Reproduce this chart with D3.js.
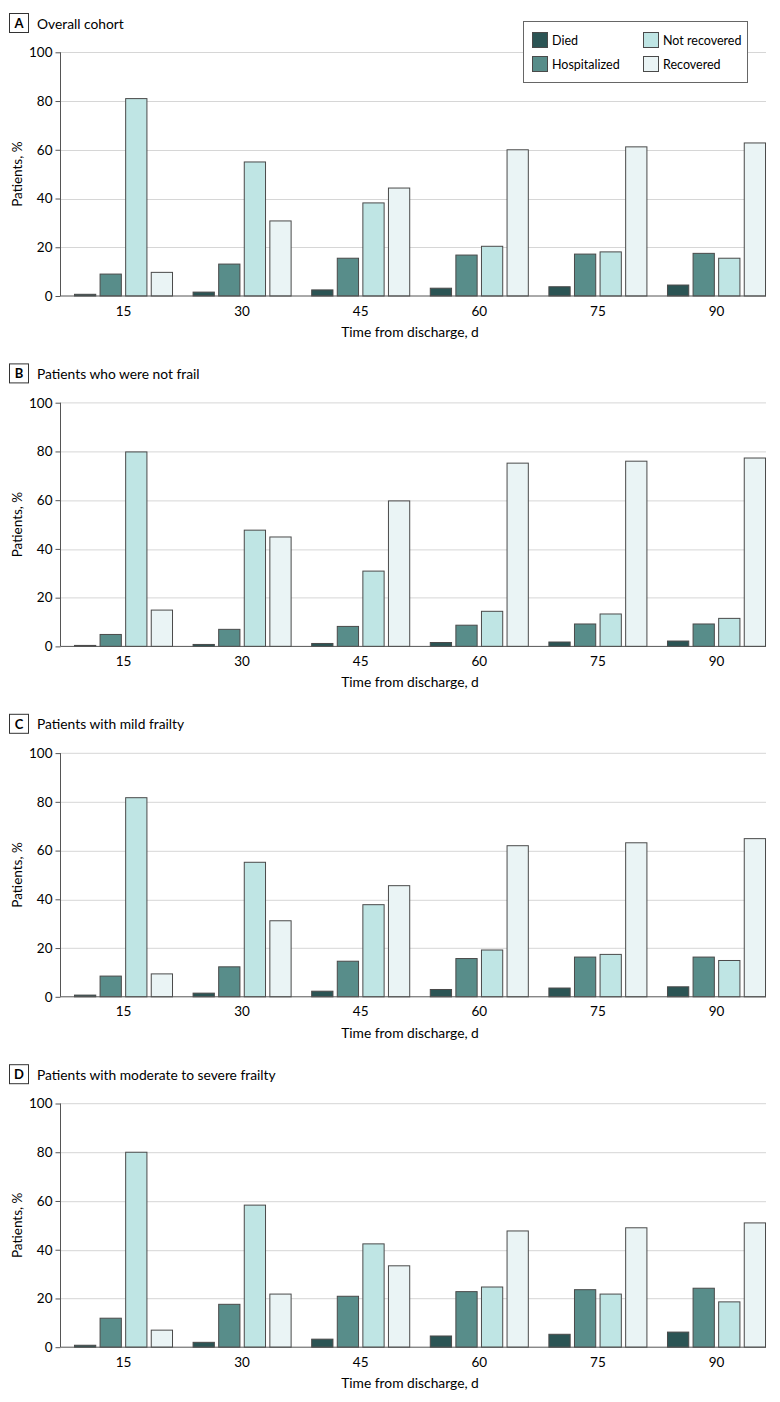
<!DOCTYPE html>
<html>
<head>
<meta charset="utf-8">
<script src="https://cdn.jsdelivr.net/npm/d3@7/dist/d3.min.js"></script>
<style>
  html, body { margin: 0; padding: 0; background: #fff; }
  svg { display: block; font-family: Lato, "Open Sans", sans-serif; }
</style>
</head>
<body>
<svg id="chart" width="780" height="1402"></svg>
<script>
// ---- data ----
const categories = ["15", "30", "45", "60", "75", "90"];
const seriesNames = ["Died", "Hospitalized", "Not recovered", "Recovered"];
const seriesColors = ["#2b5454", "#588d8a", "#bfe5e4", "#eaf4f5"];
const yTicks = [0, 20, 40, 60, 80, 100];
const panelLetters = ["A", "B", "C", "D"];
const panelTitles = ["Overall cohort", "Patients who were not frail", "Patients with mild frailty", "Patients with moderate to severe frailty"];

const panelA_died = [0.7, 1.6, 2.5, 3.2, 3.8, 4.5];
const panelA_hosp = [9.0, 13.1, 15.5, 16.8, 17.2, 17.5];
const panelA_notRec = [81.0, 55.0, 38.2, 20.4, 18.1, 15.5];
const panelA_rec = [9.7, 30.8, 44.3, 60.0, 61.2, 62.8];

const panelB_died = [0.4, 0.8, 1.2, 1.6, 1.8, 2.2];
const panelB_hosp = [4.9, 7.0, 8.2, 8.7, 9.2, 9.2];
const panelB_notRec = [79.8, 47.7, 30.9, 14.4, 13.3, 11.5];
const panelB_rec = [14.9, 44.9, 59.7, 75.2, 76.0, 77.3];

const panelC_died = [0.7, 1.5, 2.3, 3.0, 3.6, 4.1];
const panelC_hosp = [8.5, 12.3, 14.6, 15.7, 16.3, 16.3];
const panelC_notRec = [81.7, 55.2, 37.8, 19.2, 17.4, 14.9];
const panelC_rec = [9.4, 31.2, 45.6, 62.0, 63.2, 64.9];

const panelD_died = [0.8, 2.0, 3.3, 4.6, 5.3, 6.2];
const panelD_hosp = [11.9, 17.6, 20.9, 22.8, 23.6, 24.2];
const panelD_notRec = [80.0, 58.3, 42.4, 24.7, 21.8, 18.6];
const panelD_rec = [7.0, 21.8, 33.4, 47.7, 49.0, 51.0];

const panelData = [
  [panelA_died, panelA_hosp, panelA_notRec, panelA_rec],
  [panelB_died, panelB_hosp, panelB_notRec, panelB_rec],
  [panelC_died, panelC_hosp, panelC_notRec, panelC_rec],
  [panelD_died, panelD_hosp, panelD_notRec, panelD_rec]
];

// ---- layout ----
const svg = d3.select("#chart");
const panelStep = 350.4;
const axisX = 60.5, plotRight = 766;
const yTop = 52.3, yZero = 296;

const x0 = d3.scaleBand().domain(categories).range([64.2, 775.8]).paddingInner(0.165).paddingOuter(0.0825);
const x1 = d3.scaleBand().domain(seriesNames).range([0, x0.bandwidth()]).paddingInner(0.13).paddingOuter(0);
const color = d3.scaleOrdinal().domain(seriesNames).range(seriesColors);

panelData.forEach((data, pi) => {
  const g = svg.append("g").attr("transform", `translate(0, ${pi * panelStep})`);
  const y = d3.scaleLinear().domain([0, 100]).range([yZero, yTop]);

  // title
  g.append("rect").attr("x", 9.5).attr("y", 13.5).attr("width", 19).attr("height", 19)
    .attr("fill", "#fff").attr("stroke", "#333").attr("stroke-width", 1);
  g.append("text").attr("x", 19).attr("y", 28).attr("text-anchor", "middle")
    .attr("font-size", 13).attr("font-weight", "bold").attr("fill", "#000").text(panelLetters[pi]);
  g.append("text").attr("x", 37).attr("y", 28.5).attr("font-size", 13.8).attr("fill", "#000").text(panelTitles[pi]);

  // grid
  g.append("g").selectAll("line").data(yTicks.filter(t => t > 0)).join("line")
    .attr("x1", axisX).attr("x2", plotRight)
    .attr("y1", d => Math.round(y(d)) + 0.5).attr("y2", d => Math.round(y(d)) + 0.5)
    .attr("stroke", "#d6d6d6").attr("stroke-width", 1);

  // bars
  const groups = g.append("g").selectAll("g").data(categories).join("g")
    .attr("transform", d => `translate(${x0(d)},0)`);
  groups.selectAll("rect").data((c, ci) => seriesNames.map((s, si) => ({ s, v: data[si][ci] }))).join("rect")
    .attr("x", d => x1(d.s) + 0.5)
    .attr("y", d => y(d.v))
    .attr("width", x1.bandwidth() - 1)
    .attr("height", d => y(0) - y(d.v))
    .attr("fill", d => color(d.s))
    .attr("stroke", "#4a4a4a").attr("stroke-width", 1);

  // y axis
  const yAxis = d3.axisLeft(y).tickValues(yTicks).tickSize(5).tickPadding(3);
  const ya = g.append("g").attr("transform", `translate(${axisX},0)`).call(yAxis);
  ya.select(".domain").attr("stroke", "#555").attr("d", `M-0,${yTop}V${yZero}`);
  ya.selectAll(".tick line").attr("stroke", "#555");
  ya.selectAll(".tick text").attr("font-size", 13.5).attr("fill", "#000").attr("font-family", "Lato, sans-serif");

  // baseline
  g.append("line").attr("x1", axisX).attr("x2", plotRight).attr("y1", yZero).attr("y2", yZero)
    .attr("stroke", "#555").attr("stroke-width", 1);

  // x labels
  const xAxis = d3.axisBottom(x0).tickSize(0).tickPadding(10);
  const xa = g.append("g").attr("transform", `translate(0,${yZero})`).call(xAxis);
  xa.select(".domain").remove();
  xa.selectAll(".tick text").attr("font-size", 13.5).attr("fill", "#000").attr("font-family", "Lato, sans-serif");

  // axis titles
  g.append("text").attr("x", 410).attr("y", 337).attr("text-anchor", "middle")
    .attr("font-size", 13.8).attr("fill", "#000").text("Time from discharge, d");
  g.append("text").attr("transform", `translate(22, ${(yTop + yZero) / 2}) rotate(-90)`)
    .attr("text-anchor", "middle").attr("font-size", 13.5).attr("fill", "#000").text("Patients, %");
});

// legend
const lg = svg.append("g");
lg.append("rect").attr("x", 523.5).attr("y", 21.5).attr("width", 224).attr("height", 61)
  .attr("fill", "#fff").attr("stroke", "#666").attr("stroke-width", 1);
const legPos = [[532, 32], [532, 56], [643, 32], [643, 56]];
seriesNames.forEach((s, i) => {
  const [lx, ly] = legPos[i];
  lg.append("rect").attr("x", lx + 0.5).attr("y", ly + 0.5).attr("width", 15).attr("height", 15)
    .attr("fill", color(s)).attr("stroke", "#4a4a4a");
  lg.append("text").attr("x", lx + 20).attr("y", ly + 12.5).attr("font-size", 12.5).attr("fill", "#000").text(s);
});
</script>
</body>
</html>
